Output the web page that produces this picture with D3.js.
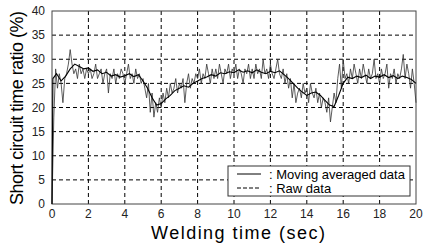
<!DOCTYPE html>
<html>
<head>
<meta charset="utf-8">
<script src="https://cdn.jsdelivr.net/npm/d3@7"></script>
<style>
  body { margin: 0; background: #fff; }
  svg { font-family: Arial, "Liberation Sans", sans-serif; }
  .grid line { stroke: #000; stroke-width: 1; stroke-dasharray: 4,3; }
</style>
</head>
<body>
<svg id="chart" width="425" height="246"></svg>
<script>
// raw data, sampled every 0.1 s from 0 to 20 s
const rawStep = 0.1
const rawValues = [
  0, 18, 28, 24, 27, 25, 21, 26, 27, 29,
  32, 29, 27, 28, 26, 29, 27, 28, 26, 28,
  27, 28, 26, 27, 29, 26, 27, 28, 25, 27,
  28, 23, 27, 26, 28, 25, 27, 26, 28, 27,
  25, 27, 29, 26, 27, 25, 28, 26, 27, 25,
  26, 24, 22, 25, 19, 23, 18, 21, 19, 22,
  20, 23, 21, 24, 22, 25, 23, 24, 26, 23,
  25, 24, 26, 21, 25, 27, 24, 26, 25, 27,
  26, 28, 25, 27, 26, 29, 27, 25, 28, 26,
  28, 26, 29, 27, 25, 28, 27, 29, 26, 28,
  27, 29, 26, 28, 27, 25, 28, 27, 29, 26,
  28, 26, 29, 27, 28, 26, 30, 27, 28, 26,
  29, 27, 26, 28, 30, 27, 26, 28, 25, 27,
  24, 26, 22, 25, 21, 23, 24, 22, 25, 23,
  24, 21, 25, 23, 22, 24, 21, 23, 20, 22,
  21, 19, 22, 17, 20, 23, 21, 26, 29, 24,
  30, 26, 27, 25, 28, 26, 29, 27, 25, 28,
  26, 29, 27, 25, 28, 26, 27, 30, 26, 27,
  25, 28, 26, 27, 29, 24, 27, 26, 28, 25,
  27, 26, 28, 31, 26, 29, 27, 24, 28, 25,
  21
]

// moving averaged data (read every 0.25 s, plus the start-up jump)
const avgTimes = [0, 0.05, 0.25, 0.5, 0.75, 1, 1.25, 1.5, 1.75, 2, 2.25, 2.5, 2.75, 3, 3.25, 3.5, 3.75,
  4, 4.25, 4.5, 4.75, 5, 5.25, 5.5, 5.75, 6, 6.25, 6.5, 6.75, 7, 7.25, 7.5, 7.75,
  8, 8.25, 8.5, 8.75, 9, 9.25, 9.5, 9.75, 10, 10.25, 10.5, 10.75, 11, 11.25, 11.5, 11.75,
  12, 12.25, 12.5, 12.75, 13, 13.25, 13.5, 13.75, 14, 14.25, 14.5, 14.75, 15, 15.25, 15.5, 15.75,
  16, 16.25, 16.5, 16.75, 17, 17.25, 17.5, 17.75, 18, 18.25, 18.5, 18.75, 19, 19.25, 19.5, 19.75, 20]
const avgValues = [0, 26, 27, 25.5, 26.5, 28, 29, 28.5, 28, 28.2, 27.5, 27.8, 27, 27.3, 26.5, 26.8, 26.3,
  26.6, 27, 26.4, 26.8, 25.5, 24, 22, 20.5, 20.8, 21.8, 22.5, 23.5, 24, 24.5, 24.2, 25,
  25.5, 26, 26.3, 26.8, 26.5, 27.2, 27, 27.4, 27.2, 27.8, 27.3, 27.6, 27.2, 27.8, 27.3, 27,
  27.5, 27.2, 27.6, 26.8, 26, 25, 24, 23.2, 22.5, 23, 23.2, 22.5, 21.5, 20.5, 20.2, 22.5,
  25, 26.3, 26, 26.5, 26.2, 26.7, 26, 26.5, 26.3, 26.8, 26.2, 26.6, 26, 26.5, 26.2, 25.8, 25]

const xTicks = [0, 2, 4, 6, 8, 10, 12, 14, 16, 18, 20]
const yTicks = [0, 5, 10, 15, 20, 25, 30, 35, 40]
const legendLabels = ["Moving averaged data", "Raw data"]

const svg = d3.select("#chart")
const plotLeft = 52, plotRight = 416, plotTop = 11, plotBottom = 204

const x = d3.scaleLinear().domain([0, 20]).range([plotLeft, plotRight])
const y = d3.scaleLinear().domain([0, 40]).range([plotBottom, plotTop])

// grid
const grid = svg.append("g").attr("class", "grid")
grid.selectAll(".gx")
  .data(xTicks.slice(1, -1)).enter()
  .append("line")
  .attr("class", "gx")
  .attr("x1", d => x(d)).attr("x2", d => x(d))
  .attr("y1", plotTop).attr("y2", plotBottom)
grid.selectAll(".gy")
  .data(yTicks.slice(1, -1)).enter()
  .append("line")
  .attr("class", "gy")
  .attr("x1", plotLeft).attr("x2", plotRight)
  .attr("y1", d => y(d)).attr("y2", d => y(d))

// frame
svg.append("rect")
  .attr("x", plotLeft).attr("y", plotTop)
  .attr("width", plotRight - plotLeft).attr("height", plotBottom - plotTop)
  .attr("fill", "none").attr("stroke", "#444").attr("stroke-width", 1)

// tick labels
svg.append("g").selectAll("text")
  .data(xTicks).enter()
  .append("text")
  .attr("x", d => x(d))
  .attr("y", plotBottom + 14)
  .attr("text-anchor", "middle")
  .attr("font-size", 12)
  .attr("fill", "#222")
  .text(d => d)

svg.append("g").selectAll("text")
  .data(yTicks).enter()
  .append("text")
  .attr("x", plotLeft - 7)
  .attr("y", d => y(d))
  .attr("dy", "0.35em")
  .attr("text-anchor", "end")
  .attr("font-size", 12)
  .attr("fill", "#222")
  .text(d => d)

// axis titles
svg.append("text")
  .attr("x", 238)
  .attr("y", 239)
  .attr("text-anchor", "middle")
  .attr("font-size", 18)
  .attr("textLength", 174)
  .text("Welding time (sec)")

svg.append("text")
  .attr("transform", `translate(23, 108) rotate(-90)`)
  .attr("text-anchor", "middle")
  .attr("font-size", 18)
  .attr("textLength", 194)
  .text("Short circuit time ratio (%)")

// data lines
const line = d3.line().x(d => x(d[0])).y(d => y(d[1]))

svg.append("path")
  .datum(rawValues.map((v, i) => [i * rawStep, v]))
  .attr("d", line)
  .attr("fill", "none")
  .attr("stroke", "#333")
  .attr("stroke-width", 0.8)

svg.append("path")
  .datum(avgTimes.map((t, i) => [t, avgValues[i]]))
  .attr("d", line)
  .attr("fill", "none")
  .attr("stroke", "#000")
  .attr("stroke-width", 1.1)

// legend
const lg = svg.append("g").attr("transform", "translate(228, 166)")
lg.append("rect")
  .attr("width", 182).attr("height", 30)
  .attr("fill", "#fff").attr("stroke", "#333").attr("stroke-width", 1)

legendLabels.forEach((label, i) => {
  const ly = 8 + i * 14
  lg.append("line")
    .attr("x1", 9).attr("x2", 33)
    .attr("y1", ly).attr("y2", ly)
    .attr("stroke", "#000")
    .attr("stroke-width", 1)
    .attr("stroke-dasharray", i == 1 ? "4,2" : null)
  lg.append("text")
    .attr("x", 41).attr("y", ly)
    .attr("dy", "0.35em")
    .attr("font-size", 13)
    .text(": " + label)
})
</script>
</body>
</html>
